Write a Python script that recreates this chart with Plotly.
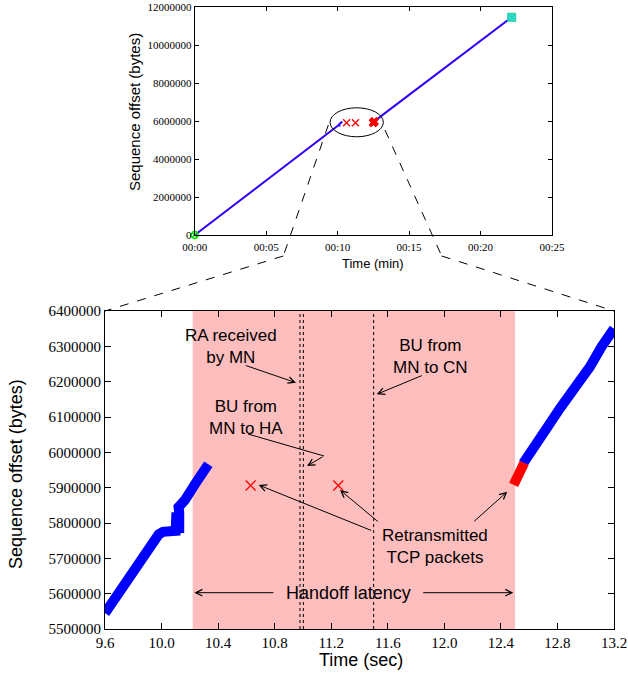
import plotly.graph_objects as go

W, H = 628, 682


def px(x):
    return x / W


def py(y):
    return 1 - y / H


# ---------------- data (time in seconds, sequence offset in bytes) ----------------
left_t = [9.600, 9.750, 9.870, 9.950, 9.980, 10.010, 10.060, 10.100, 10.105, 10.125, 10.125, 10.120, 10.166, 10.190, 10.248, 10.331]
left_seq = [5545000, 5635000, 5707000, 5756000, 5768000, 5775000, 5779000, 5778000, 5830000, 5772000, 5830000, 5845000, 5865100, 5884000, 5917000, 5966100]

retx_t = [10.63, 11.25]
retx_seq = [5906000, 5906000]

burst_t = [12.49, 12.51, 12.53, 12.55, 12.565]
burst_seq = [5908000, 5925000, 5940000, 5955000, 5970000]

right_t = [12.558, 12.629, 12.724, 12.818, 12.936, 13.030, 13.112, 13.200]
right_seq = [5968900, 6015900, 6068000, 6124600, 6185800, 6242400, 6299000, 6350000]

start_t, start_seq = [0.0], [0]
end_t, end_seq = [22.18], [11460000]

handoff_start, handoff_end = 10.22, 12.50
event_lines = [10.979, 11.003, 11.50]

top_tickvals = [0, 5, 10, 15, 20, 25]
top_ticktext = ["00:00", "00:05", "00:10", "00:15", "00:20", "00:25"]

BLUE = "#0000ff"
RED = "#ff0000"
PINK = "rgb(255,190,190)"
SERIF = "Liberation Serif, Times New Roman, serif"
SANS = "Liberation Sans, Arial, sans-serif"

fig = go.Figure()

# ---------------- top overview chart ----------------
fig.add_trace(go.Scatter(x=start_t + left_t, y=start_seq + left_seq, mode="lines",
                         line=dict(color="#3300ff", width=2), xaxis="x", yaxis="y", showlegend=False))
fig.add_trace(go.Scatter(x=right_t + end_t, y=right_seq + end_seq, mode="lines",
                         line=dict(color="#3300ff", width=2), xaxis="x", yaxis="y", showlegend=False))
fig.add_trace(go.Scatter(x=retx_t, y=retx_seq, mode="markers",
                         marker=dict(symbol="x-thin-open", size=7, color=RED, line=dict(color=RED, width=1.3)),
                         xaxis="x", yaxis="y", showlegend=False))
fig.add_trace(go.Scatter(x=burst_t, y=burst_seq, mode="markers",
                         marker=dict(symbol="x", size=8, color=RED, line=dict(width=0)),
                         xaxis="x", yaxis="y", showlegend=False))
fig.add_trace(go.Scatter(x=start_t, y=start_seq, mode="markers", cliponaxis=False,
                         marker=dict(symbol="circle-x-open", size=7, color="#00dd00",
                                     line=dict(color="#00dd00", width=1.5)),
                         xaxis="x", yaxis="y", showlegend=False))
fig.add_trace(go.Scatter(x=end_t, y=end_seq, mode="markers", cliponaxis=False,
                         marker=dict(symbol="square-x", size=8, color="#33dddd", line=dict(color="#22cc99", width=1)),
                         xaxis="x", yaxis="y", showlegend=False))

# ---------------- bottom zoomed chart ----------------
fig.add_trace(go.Scatter(x=left_t, y=left_seq, mode="lines",
                         line=dict(color=BLUE, width=10), xaxis="x2", yaxis="y2", showlegend=False))
fig.add_trace(go.Scatter(x=right_t, y=right_seq, mode="lines", cliponaxis=False,
                         line=dict(color=BLUE, width=10), xaxis="x2", yaxis="y2", showlegend=False))
fig.add_trace(go.Scatter(x=burst_t, y=burst_seq, mode="lines",
                         line=dict(color=RED, width=10), xaxis="x2", yaxis="y2", showlegend=False))
fig.add_trace(go.Scatter(x=retx_t, y=retx_seq, mode="markers",
                         marker=dict(symbol="x-thin-open", size=10, color=RED, line=dict(color=RED, width=1.3)),
                         xaxis="x2", yaxis="y2", showlegend=False))

axis_common = dict(showline=True, linecolor="black", linewidth=1, mirror="ticks", ticks="inside",
                   tickcolor="black", showgrid=False, zeroline=False, automargin=False)

fig.update_layout(
    width=W, height=H, margin=dict(l=0, r=0, t=0, b=0),
    paper_bgcolor="white", plot_bgcolor="white",
    xaxis=dict(domain=[px(194.7), px(552)], range=[0, 25], tickvals=top_tickvals, ticktext=top_ticktext,
               ticklen=4, ticklabelstandoff=2, tickfont=dict(family=SERIF, size=11, color="black"),
               anchor="y", **axis_common),
    yaxis=dict(domain=[py(235), py(7)], range=[0, 12000000], dtick=2000000, tickformat="d",
               ticklen=4, tickfont=dict(family=SERIF, size=11, color="black"), anchor="x", **axis_common),
    xaxis2=dict(domain=[px(105), px(614)], range=[9.6, 13.2], tick0=9.6, dtick=0.4, tickformat=".1f",
                ticklen=6, tickfont=dict(family=SERIF, size=15, color="black"), anchor="y2", **axis_common),
    yaxis2=dict(domain=[py(629), py(311)], range=[5500000, 6400000], dtick=100000, tickformat="d",
                ticklen=6, tickfont=dict(family=SERIF, size=15, color="black"), anchor="x2", **axis_common),
)

shapes = []
# handoff shading
shapes.append(dict(type="rect", xref="x2", yref="y2", x0=handoff_start, x1=handoff_end,
                   y0=5500000, y1=6400000, fillcolor=PINK, line=dict(width=0), layer="below"))
# event lines
for ev in event_lines:
    shapes.append(dict(type="line", xref="x2", yref="y2", x0=ev, x1=ev, y0=5500000, y1=6400000,
                       line=dict(color="black", width=1, dash="dot"), layer="above"))
# BU->HA leader line
shapes.append(dict(type="line", xref="x2", yref="y2", x0=10.611, y0=6051900, x1=11.149, y1=5989600,
                   line=dict(color="black", width=1)))
# ellipse in top chart
shapes.append(dict(type="circle", xref="x", yref="y", x0=9.47, x1=13.2, y0=5169000, y1=6695000,
                   line=dict(color="black", width=1)))
# zoom dashed lines (paper)
for (a, b) in [((328.3, 125), (283.3, 256)), ((283.3, 256), (105, 311)),
               ((385, 130), (441.7, 256)), ((441.7, 256), (614, 311))]:
    shapes.append(dict(type="line", xref="paper", yref="paper", x0=px(a[0]), y0=py(a[1]),
                       x1=px(b[0]), y1=py(b[1]), line=dict(color="black", width=1, dash="dash")))
fig.update_layout(shapes=shapes)

ann = []


def label(text, x, y, size=18, angle=0):
    ann.append(dict(text=text, xref="paper", yref="paper", x=px(x), y=py(y), xanchor="center",
                    yanchor="middle", showarrow=False, textangle=angle,
                    font=dict(family=SANS, size=size, color="black")))


def arrow(tail, head):
    ann.append(dict(text="", xref="x2", yref="y2", axref="x2", ayref="y2", x=head[0], y=head[1],
                    ax=tail[0], ay=tail[1], showarrow=True, arrowhead=5, arrowsize=1.3,
                    arrowwidth=1, arrowcolor="black", standoff=0, startstandoff=0))


# axis titles
label("Sequence offset (bytes)", 135, 112, size=15, angle=-90)
label("Time (min)", 372.5, 263, size=13)
label("Sequence offset (bytes)", 16, 474, size=18, angle=-90)
label("Time (sec)", 361, 660, size=18)

# annotations (two-line labels)
label("RA received<br>by MN", 231, 346, size=17)
label("BU from<br>MN to HA", 245.5, 417, size=17)
label("BU from<br>MN to CN", 430, 356, size=17)
label("Retransmitted<br>TCP packets", 435, 546, size=17)
label("Handoff latency", 348.5, 593)

arrow((10.585, 6247170), (10.951, 6197080))
arrow((11.149, 5989600), (11.029, 5961300))
arrow((11.851, 6218870), (11.522, 6164250))
arrow((11.493, 5777360), (10.687, 5907545))
arrow((11.540, 5800850), (11.262, 5893400))
arrow((12.200, 5800850), (12.445, 5888600))
arrow((10.802, 5602750), (10.232, 5602750))
arrow((11.840, 5602750), (12.488, 5602750))

fig.update_layout(annotations=ann)

fig.write_html("out.html")
